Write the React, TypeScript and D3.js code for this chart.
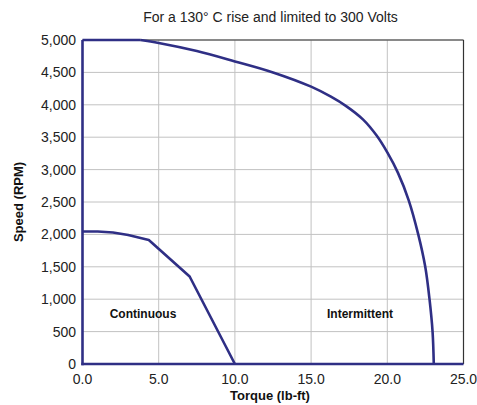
import React from "react";
import * as d3 from "d3";

const title = "For a 130° C rise and limited to 300 Volts";
const xTicks = [0, 5, 10, 15, 20, 25];
const yTicks = [0, 500, 1000, 1500, 2000, 2500, 3000, 3500, 4000, 4500, 5000];

// Intermittent envelope (torque lb-ft, speed RPM)
const intermittentTorque = [3.8, 5, 7.5, 10, 12.5, 15, 16.3, 17.3, 18.4, 19.3, 20, 20.7, 21.4, 22.03, 22.49, 22.77, 22.97, 23.05];
const intermittentSpeed = [5000, 4955, 4830, 4670, 4500, 4280, 4125, 3980, 3775, 3525, 3265, 2950, 2530, 2000, 1500, 1000, 500, 0];

// Continuous envelope
const continuousTorque = [0, 1.0, 2.0, 3.0, 4.35, 7.03, 10.0];
const continuousSpeed = [2045, 2045, 2030, 1990, 1915, 1350, 0];

const W = 477;
const H = 405;
const margin = { left: 82.5, right: 13.5, top: 40, bottom: 41 };

export default function App() {
  const x = d3.scaleLinear().domain([0, 25]).range([margin.left, W - margin.right]);
  const y = d3.scaleLinear().domain([0, 5000]).range([H - margin.bottom, margin.top]);
  const blue = "#2f2f85";
  const font = "Liberation Sans, Arial, sans-serif";

  const interPts: [number, number][] = intermittentTorque.map((t, i) => [t, intermittentSpeed[i]]);
  const contPts: [number, number][] = continuousTorque.map((t, i) => [t, continuousSpeed[i]]);

  const curveLine = d3
    .line<[number, number]>()
    .x((d) => x(d[0]))
    .y((d) => y(d[1]))
    .curve(d3.curveCatmullRom.alpha(0.5));
  const contLine = d3
    .line<[number, number]>()
    .x((d) => x(d[0]))
    .y((d) => y(d[1]))
    .curve(d3.curveLinear);

  const fmt = d3.format(",");

  return (
    <svg width={W} height={H} style={{ position: "absolute", left: 0, top: 0, background: "#fff" }}>
      <text x={270.5} y={22} textAnchor="middle" fontFamily={font} fontSize={14} fill="#222">
        {title}
      </text>
      {/* grid */}
      {xTicks.map((t) => (
        <line key={"gx" + t} x1={x(t)} x2={x(t)} y1={y(0)} y2={y(5000)} stroke="#c2c2c2" strokeWidth={1} />
      ))}
      {yTicks.map((t) => (
        <line key={"gy" + t} x1={x(0)} x2={x(25)} y1={y(t)} y2={y(t)} stroke="#c2c2c2" strokeWidth={1} />
      ))}
      {/* top & right border */}
      <line x1={x(0)} x2={x(25)} y1={y(5000)} y2={y(5000)} stroke="#333" strokeWidth={1.2} />
      <line x1={x(25)} x2={x(25)} y1={y(5000)} y2={y(0)} stroke="#333" strokeWidth={1.2} />
      {/* tick labels */}
      {yTicks.map((t) => (
        <text key={"ly" + t} x={76} y={y(t)} dy="0.36em" textAnchor="end" fontFamily={font} fontSize={14} fill="#222">
          {fmt(t)}
        </text>
      ))}
      {xTicks.map((t) => (
        <text key={"lx" + t} x={x(t)} y={384} textAnchor="middle" fontFamily={font} fontSize={14} fill="#222">
          {t.toFixed(1)}
        </text>
      ))}
      {/* axis titles */}
      <text x={270} y={400} textAnchor="middle" fontFamily={font} fontSize={13} fontWeight="bold" fill="#111">
        Torque (lb-ft)
      </text>
      <text
        transform={`translate(23,${(y(0) + y(5000)) / 2}) rotate(-90)`}
        textAnchor="middle"
        fontFamily={font}
        fontSize={13}
        fontWeight="bold"
        fill="#111"
      >
        Speed (RPM)
      </text>
      {/* region labels */}
      <text x={143} y={318} textAnchor="middle" fontFamily={font} fontSize={12} fontWeight="bold" fill="#111">
        Continuous
      </text>
      <text x={360} y={318} textAnchor="middle" fontFamily={font} fontSize={12} fontWeight="bold" fill="#111">
        Intermittent
      </text>
      {/* blue axis lines (part of envelope) */}
      <line x1={x(0)} x2={x(0)} y1={y(0) + 1.2} y2={y(5000)} stroke={blue} strokeWidth={2.6} />
      <line x1={x(0) - 1.2} x2={x(25)} y1={y(0)} y2={y(0)} stroke={blue} strokeWidth={2.6} />
      <line x1={x(0)} x2={x(intermittentTorque[0])} y1={y(5000)} y2={y(5000)} stroke={blue} strokeWidth={2.6} />
      <path d={curveLine(interPts) || ""} fill="none" stroke={blue} strokeWidth={2.6} />
      <path d={contLine(contPts) || ""} fill="none" stroke={blue} strokeWidth={2.6} strokeLinejoin="round" />
    </svg>
  );
}
